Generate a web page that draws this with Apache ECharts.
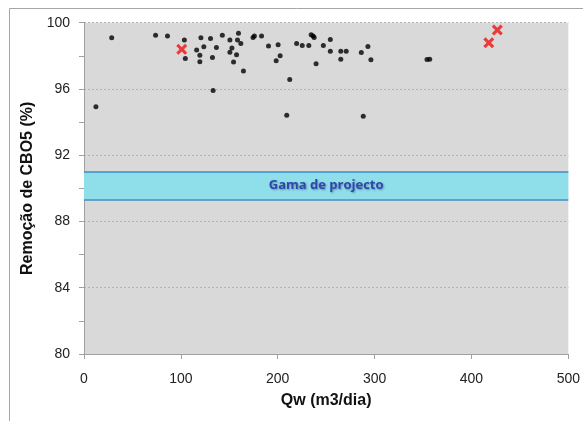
<!DOCTYPE html>
<html><head><meta charset="utf-8">
<script src="https://cdn.jsdelivr.net/npm/echarts@6/dist/echarts.min.js"></script>
<style>html,body{margin:0;padding:0;background:#fff}#c{width:583px;height:421px}</style>
</head><body><div id="c"></div>
<script>
const xTicks = [0, 100, 200, 300, 400, 500];
const yTicks = [80, 84, 88, 92, 96, 100];
const obsQw = [28.6, 73.9, 86.2, 103.6, 104.6, 120.7, 116.3, 119.6, 119.6, 123.7, 130.6, 136.7, 132.6, 133.3, 142.8, 150.6, 152.7, 150.6, 159.5, 158.5, 161.9, 157.5, 154.4, 164.6, 174.5, 175.9, 183.3, 190.5, 200.4, 202.5, 198.4, 212.4, 209.3, 219.5, 225.3, 232.1, 234.5, 236.5, 237.6, 239.6, 247.1, 12.3, 254.3, 254.3, 265.1, 265.1, 270.7, 286.3, 293.1, 296.2, 288.3, 354.1, 356.9];
const obsRem = [99.09, 99.24, 99.19, 98.95, 97.84, 99.09, 98.35, 98.04, 97.64, 98.55, 99.05, 98.51, 97.9, 95.9, 99.24, 98.95, 98.48, 98.22, 99.36, 98.95, 98.75, 98.06, 97.62, 97.09, 99.11, 99.19, 99.19, 98.59, 98.67, 98.0, 97.7, 96.57, 94.42, 98.75, 98.63, 98.63, 99.27, 99.19, 99.11, 97.52, 98.63, 94.93, 98.99, 98.28, 98.28, 97.8, 98.27, 98.2, 98.57, 97.76, 94.36, 97.78, 97.8];
const projQw = [100.9, 417.9, 426.7];
const projRem = [98.39, 98.79, 99.56];
const bandRange = [89.34, 91.0];
const bandLabel = 'Gama de projecto';
const xTitle = 'Qw (m3/dia)';
const yTitle = 'Remoção de CBO5 (%)';

const chart = echarts.init(document.getElementById('c'), null, {renderer: 'canvas'});
const font = '"Liberation Sans", Arial, sans-serif';
const xMark = 'path://M0,2 L2,0 L5,3 L8,0 L10,2 L7,5 L10,8 L8,10 L5,7 L2,10 L0,8 L3,5 Z';
chart.setOption({
  animation: false,
  graphic: [{type: 'rect', shape: {x: 9.5, y: 8.5, width: 600, height: 450}, style: {fill: 'none', stroke: '#a6a6a6', lineWidth: 1}, z: -10}],
  grid: {left: 84, right: 12, top: 22.7, bottom: 67, show: true, backgroundColor: '#d9d9d9', borderWidth: 0},
  xAxis: {
    type: 'value', min: xTicks[0], max: xTicks[xTicks.length - 1], interval: 100,
    name: xTitle, nameLocation: 'middle', nameGap: 39,
    nameTextStyle: {fontFamily: font, fontSize: 16, fontWeight: 'bold', color: '#111'},
    axisLine: {lineStyle: {color: '#a0a0a0'}},
    axisTick: {show: true, length: 5, lineStyle: {color: '#a0a0a0'}},
    axisLabel: {fontFamily: font, fontSize: 14, color: '#222', margin: 18},
    splitLine: {show: false}
  },
  yAxis: {
    type: 'value', min: yTicks[0], max: yTicks[yTicks.length - 1], interval: 4,
    name: yTitle, nameLocation: 'middle', nameGap: 40, nameRotate: 90,
    nameTextStyle: {fontFamily: font, fontSize: 16, fontWeight: 'bold', color: '#111'},
    axisLine: {show: true, lineStyle: {color: '#a0a0a0'}},
    axisTick: {show: true, length: 5, lineStyle: {color: '#a0a0a0'}},
    minorTick: {show: true, splitNumber: 2, length: 5, lineStyle: {color: '#a0a0a0'}},
    axisLabel: {fontFamily: font, fontSize: 14, color: '#222', margin: 14},
    splitLine: {show: true, lineStyle: {color: '#b2b2b2', type: [2, 2], width: 1}}
  },
  series: [
    {
      type: 'scatter', data: obsQw.map((v, i) => [v, obsRem[i]]),
      symbol: 'circle', symbolSize: 5, itemStyle: {color: '#000'}, z: 3,
      markArea: {
        silent: true,
        itemStyle: {color: '#8edfe9', borderWidth: 0},
        label: {show: true, position: 'inside', formatter: bandLabel, fontFamily: '"Open Sans", "Noto Sans", sans-serif', fontSize: 13, fontWeight: 'bold', color: '#3446ad', textShadowColor: 'rgba(0,0,60,0.35)', textShadowBlur: 2, textShadowOffsetX: 1, textShadowOffsetY: 1},
        data: [[{yAxis: bandRange[0]}, {yAxis: bandRange[1]}]]
      },
      markLine: {
        silent: true, symbol: 'none', label: {show: false},
        lineStyle: {color: '#3d8ec6', width: 1.5, type: 'solid'},
        data: [{yAxis: bandRange[0]}, {yAxis: bandRange[1]}]
      }
    },
    {
      type: 'scatter', data: projQw.map((v, i) => [v, projRem[i]]),
      symbol: xMark, symbolSize: 11, itemStyle: {color: '#ee1111'}, z: 4
    }
  ]
});
</script></body></html>
